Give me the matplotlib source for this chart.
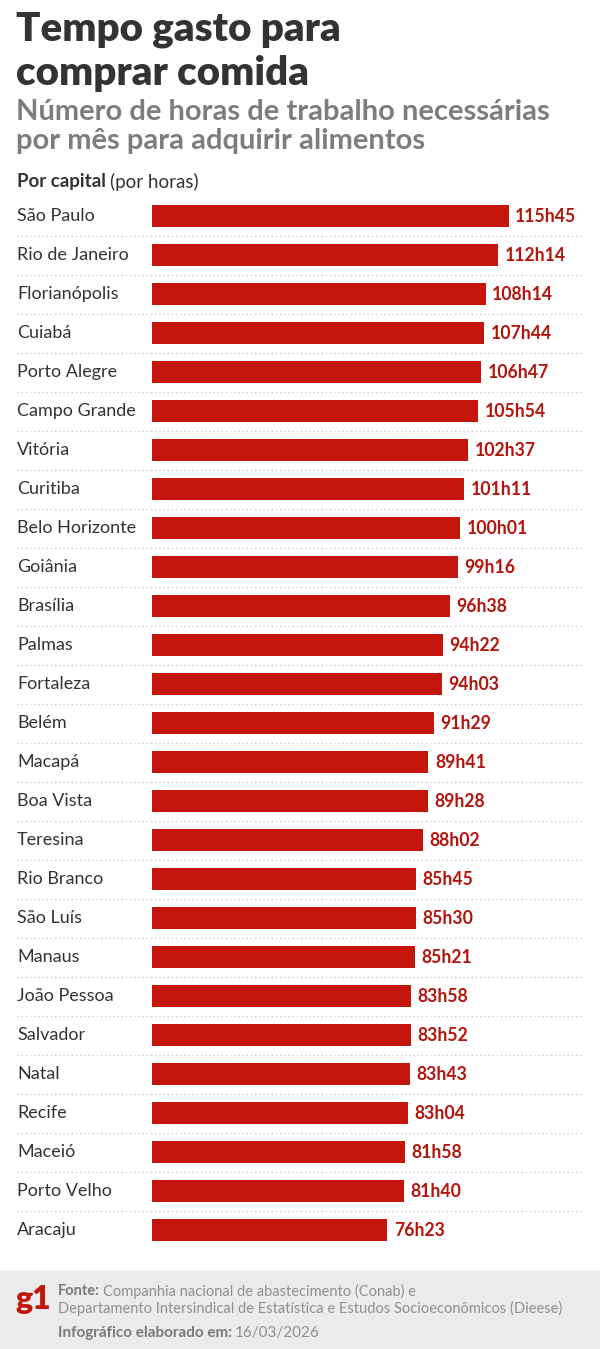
import matplotlib.pyplot as plt
from matplotlib.patches import Rectangle

# dados (horas de trabalho por mês)
cities = ['São Paulo', 'Rio de Janeiro', 'Florianópolis', 'Cuiabá', 'Porto Alegre',
          'Campo Grande', 'Vitória', 'Curitiba', 'Belo Horizonte', 'Goiânia',
          'Brasília', 'Palmas', 'Fortaleza', 'Belém', 'Macapá', 'Boa Vista',
          'Teresina', 'Rio Branco', 'São Luís', 'Manaus', 'João Pessoa',
          'Salvador', 'Natal', 'Recife', 'Maceió', 'Porto Velho', 'Aracaju']
labels = ['115h45', '112h14', '108h14', '107h44', '106h47', '105h54', '102h37',
          '101h11', '100h01', '99h16', '96h38', '94h22', '94h03', '91h29',
          '89h41', '89h28', '88h02', '85h45', '85h30', '85h21', '83h58',
          '83h52', '83h43', '83h04', '81h58', '81h40', '76h23']
hours = [int(s.split('h')[0]) + int(s.split('h')[1]) / 60 for s in labels]

W, H = 600, 1349
BAR_RED = '#c4160c'
TXT_RED = '#b3140c'
DARK = '#333333'

plt.rcParams['font.family'] = ['Lato', 'DejaVu Sans']

fig = plt.figure(figsize=(W / 100, H / 100), dpi=100)
fig.patch.set_facecolor('white')


def fx(px):
    return px / W


def fy(py):
    return 1 - py / H


def text_after(t, gap, y, s, **kw):
    # coloca texto logo depois de outro texto
    fig.canvas.draw()
    bb = t.get_window_extent()
    return fig.text(bb.x1 / W + fx(gap), y, s, **kw)


# footer band
fig.patches.append(Rectangle((0, fy(1348)), 1, (1348 - 1271) / H,
                             transform=fig.transFigure, color='#ebebeb', zorder=0))

# axes covering whole figure, x in hours, y in rows
ax = fig.add_axes([0, 0, 1, 1])
ax.set_facecolor('none')
x0 = 152.3
pph = (508.7 - 152.3) / hours[0]   # pixels per hour
ax.set_xlim(-x0 / pph, (W - x0) / pph)
y0, dy = 216.2, 39.0
ax.set_ylim((H - y0) / dy, -y0 / dy)
ax.axis('off')

rows = range(len(cities))
ax.barh(list(rows), hours, height=21.5 / dy, color=BAR_RED, zorder=2)

for i in rows:
    ax.text((17 - x0) / pph, i, cities[i], ha='left', va='center',
            fontsize=13, color=DARK)
    ax.text(hours[i] + 6.5 / pph, i, labels[i], ha='left', va='center',
            fontsize=12.7, fontweight='bold', color=TXT_RED)
    if i < len(cities) - 1:
        ax.plot([(17 - x0) / pph, (583 - x0) / pph], [i + 0.5, i + 0.5],
                color='#cdcdcd', lw=1, ls=(0, (1, 2)), zorder=1)

# títulos
fig.text(fx(16), fy(29), 'Tempo gasto para', fontsize=29, fontweight='heavy',
         color=DARK, va='center')
fig.text(fx(16), fy(73), 'comprar comida', fontsize=29, fontweight='heavy',
         color=DARK, va='center')
fig.text(fx(16), fy(112), 'Número de horas de trabalho necessárias', fontsize=21,
         fontweight='bold', color='#7d7d7d', va='center')
fig.text(fx(16), fy(141), 'por mês para adquirir alimentos', fontsize=21,
         fontweight='bold', color='#7d7d7d', va='center')
t = fig.text(fx(17), fy(182), 'Por capital', fontsize=13.5, fontweight='bold',
             color=DARK, va='center')
text_after(t, 4, fy(182), '(por horas)', fontsize=13.5, color=DARK, va='center')

# rodapé
fig.text(fx(15), fy(1299), 'g1', fontsize=23, fontweight='heavy', color='#c4170c',
         va='center')
t = fig.text(fx(58), fy(1291), 'Fonte:', fontsize=10.5, fontweight='bold',
             color='#7a7a7a', va='center')
text_after(t, 3, fy(1291), 'Companhia nacional de abastecimento (Conab) e',
           fontsize=10.5, color='#8f8f8f', va='center')
fig.text(fx(58), fy(1308),
         'Departamento Intersindical de Estatística e Estudos Socioeconômicos (Dieese)',
         fontsize=10.5, color='#8f8f8f', va='center')
t = fig.text(fx(58), fy(1333), 'Infográfico elaborado em:', fontsize=11,
             fontweight='bold', color='#7a7a7a', va='center')
text_after(t, 3, fy(1333), '16/03/2026', fontsize=11, color='#8f8f8f', va='center')

fig.savefig('out.png', dpi=100, facecolor='white')
